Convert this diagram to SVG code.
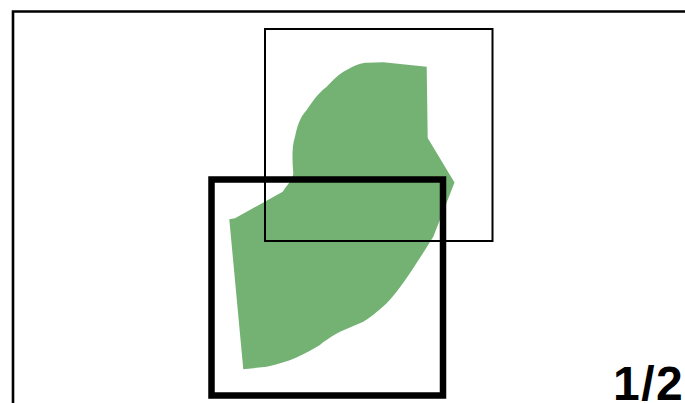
<svg xmlns="http://www.w3.org/2000/svg" width="685" height="403" viewBox="0 0 685 403">
<style>
.frame{fill:none;stroke:#000}
.label{font-family:"Liberation Sans",Arial,sans-serif;font-weight:bold;fill:#000}
</style>
<rect width="685" height="403" fill="#fff"/>
<g id="outer-frame"><path class="frame" d="M13,410 V11.5 H700" stroke-width="2.6"/></g>
<g id="shape"><path fill="#74b274" d="M426.7,66.7 L427.7,138 L454.5,182.5 L433.3,236.7 C420,258 400,290 386.7,303.3 C375,314 368,319 363.3,321.7 L340,331.7 C330,337 322,343 320,345 C305,354 290,362 266.7,366.7 L243.3,369.3 L229.3,219.3 L235,218.3 L282.7,191.7 L285,188.3 C290,182 293,178 293.3,173.3 C292,160 292,145 295,136.7 C298,122 302,115 306.7,110 C315,97 322,90 326.7,86.7 C333,80 340,73 346.7,70 C355,65 362,62.7 366.7,62.7 L383.3,62.3 Z"/></g>
<g id="upper-box"><rect class="frame" x="265" y="29" width="227.5" height="212" stroke-width="2"/></g>
<g id="lower-box"><rect class="frame" x="211.5" y="179.5" width="231.5" height="216" stroke-width="6.5"/></g>
<g id="page-label"><text class="label" x="613" y="400" font-size="48" letter-spacing="1.5">1/2</text></g>
</svg>
